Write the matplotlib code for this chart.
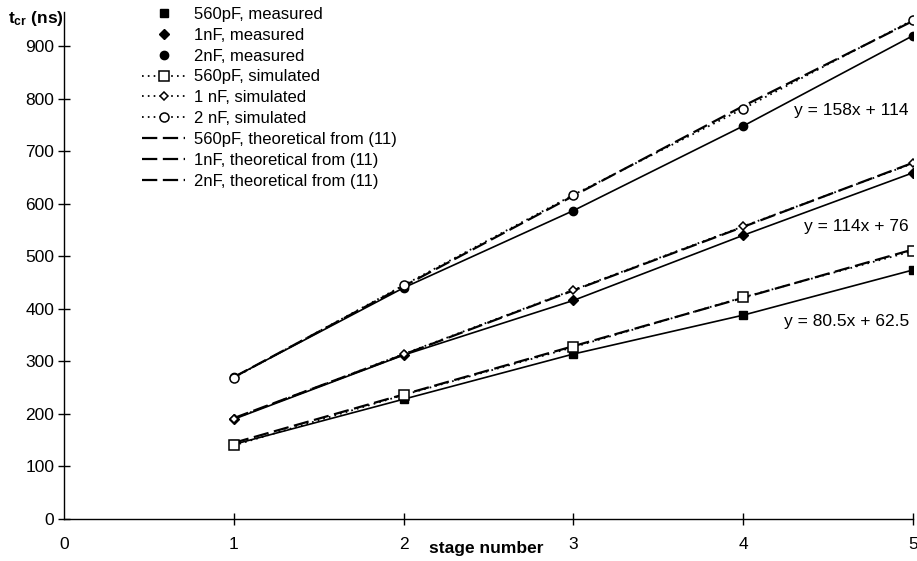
import numpy as np
import matplotlib.pyplot as plt

plt.rcParams['font.family'] = ['Liberation Sans', 'DejaVu Sans']
plt.rcParams['mathtext.fontset'] = 'custom'
plt.rcParams['mathtext.rm'] = 'Liberation Sans'
plt.rcParams['mathtext.bf'] = 'Liberation Sans:bold'
plt.rcParams['lines.scale_dashes'] = False

# stage number
stages = [1, 2, 3, 4, 5]

# measured t_cr (ns)
meas_560p = [142, 228, 314, 388, 474]
meas_1n = [190, 312, 416, 540, 659]
meas_2n = [270, 440, 587, 748, 920]

# simulated
sim_560p = [140, 236, 327, 422, 510]
sim_1n = [191, 314, 436, 557, 677]
sim_2n = [269, 445, 617, 781, 950]

# theoretical from (11)
theo_560p = [145, 237, 329, 421, 513]
theo_1n = [192, 313, 435, 556, 678]
theo_2n = [270, 443, 615, 786, 948]

fits = ['y = 158x + 114', 'y = 114x + 76', 'y = 80.5x + 62.5']
fit_pos = [(4.975, 778), (4.975, 557), (4.975, 375)]

fig = plt.figure(figsize=(9.17, 5.61), dpi=100)
ax = fig.add_axes([64/917, 42/561, 849/917, 507/561])

# solid lines through measured points
for ys in (meas_560p, meas_1n, meas_2n):
    ax.plot(stages, ys, color='black', lw=1.2, zorder=2)

ax.plot(stages, meas_560p, ls='none', marker='s', ms=6, color='black', label='560pF, measured')
ax.plot(stages, meas_1n, ls='none', marker='D', ms=5, color='black', label='1nF, measured')
ax.plot(stages, meas_2n, ls='none', marker='o', ms=6, color='black', label='2nF, measured')

dot = (0, (1.2, 3.0))
ax.plot(stages, sim_560p, ls=dot, lw=1.3, color='black', marker='s', ms=6.5,
        mfc='white', mec='black', mew=1.1, label='560pF, simulated', zorder=4)
ax.plot(stages, sim_1n, ls=dot, lw=1.3, color='black', marker='D', ms=4.5,
        mfc='white', mec='black', mew=1.1, label='1 nF, simulated', zorder=4)
ax.plot(stages, sim_2n, ls=dot, lw=1.3, color='black', marker='o', ms=6.5,
        mfc='white', mec='black', mew=1.1, label='2 nF, simulated', zorder=4)

dash = (0, (11, 4))
ax.plot(stages, theo_560p, ls=dash, lw=1.6, color='black', label='560pF, theoretical from (11)', zorder=3)
ax.plot(stages, theo_1n, ls=dash, lw=1.6, color='black', label='1nF, theoretical from (11)', zorder=3)
ax.plot(stages, theo_2n, ls=dash, lw=1.6, color='black', label='2nF, theoretical from (11)', zorder=3)

for txt, (tx, ty) in zip(fits, fit_pos):
    ax.text(tx, ty, txt, ha='right', va='center', fontsize=12.5)

ax.set_xlim(0, 5)
ax.set_ylim(0, 965)
ax.set_xticks(range(0, 6))
ax.set_yticks(range(0, 1000, 100))
ax.spines['top'].set_visible(False)
ax.spines['right'].set_visible(False)
ax.spines['left'].set_linewidth(1.0)
ax.spines['bottom'].set_linewidth(1.0)
ax.tick_params(axis='y', direction='inout', length=8, width=1.0, pad=3, labelsize=12.5)
ax.tick_params(axis='x', direction='inout', length=8, width=1.0, pad=9, labelsize=12.5)
ax.xaxis.get_major_ticks()[0].tick1line.set_visible(False)

ax.set_xlabel('stage number', fontsize=12.5, fontweight='bold')
ax.xaxis.set_label_coords((486 - 64) / 849, -0.043)
fig.text(8/917, 1 - 18/561, r'$\mathbf{t_{cr}}$ (ns)', fontsize=12.5, fontweight='bold',
         ha='left', va='center')

leg = ax.legend(loc='upper left', bbox_to_anchor=(142/917, 1 - 7/561),
                bbox_transform=fig.transFigure, frameon=False, fontsize=12,
                handlelength=2.6, handletextpad=0.5, labelspacing=0.35,
                borderpad=0, borderaxespad=0, numpoints=1)

fig.savefig('out.png', dpi=100)
